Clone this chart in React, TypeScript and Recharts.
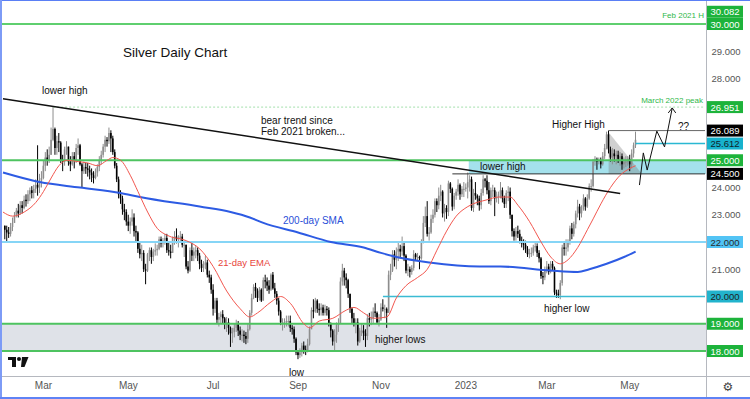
import React from "react";
import {
  ComposedChart,
  Bar,
  Line,
  Area,
  XAxis,
  YAxis,
  ReferenceLine,
  ReferenceArea,
} from "recharts";

// daily XAG/USD candles, index 0 = 1 Feb 2022 (weekdays), open = previous close
const firstOpen = 22.6;
const closes = [
  // Feb 2022
  22.45, 22.35, 22.3, 22.55, 22.7, 22.95, 23.15, 23.05, 23.35, 23.25,
  23.55, 23.5, 23.75, 23.9, 23.8, 23.95, 24.1, 24.0, 24.25, 24.35,
  // Mar
  24.8, 25.1, 25.0, 25.2, 25.75, 26.15, 25.45, 25.7, 25.65, 25.0,
  24.95, 25.4, 25.5, 24.95, 24.85, 25.15, 25.0, 25.45, 25.55, 24.85,
  24.6, 24.75, 24.7,
  // Apr
  24.65, 24.55, 24.45, 24.35, 24.55, 24.75, 25.0, 25.2, 25.5, 25.75,
  25.7, 26.0, 25.8, 25.3, 24.8, 24.3, 23.75, 23.6, 23.2, 23.1,
  22.75,
  // May
  22.6, 22.75, 22.9, 22.4, 22.35, 21.75, 21.55, 21.6, 21.0, 20.95,
  21.55, 21.7, 21.45, 21.65, 21.7, 21.75, 22.1, 21.95, 22.05, 22.15,
  21.7, 21.65,
  // Jun
  21.6, 22.15, 22.2, 22.1, 22.15, 22.2, 21.9, 21.9, 21.1, 20.95,
  21.7, 21.5, 21.65, 21.7, 21.5, 21.2, 21.05, 21.15, 21.25, 20.8,
  20.7, 20.25,
  // Jul
  19.55, 19.85, 19.15, 19.25, 19.35, 19.2, 19.0, 19.05, 18.85, 18.65,
  18.7, 18.85, 19.0, 18.75, 18.6, 18.6, 18.55, 18.45, 18.8, 19.4,
  19.95,
  // Aug
  20.35, 20.2, 19.95, 20.25, 19.85, 20.6, 20.55, 20.4, 20.25, 20.8,
  20.3, 20.1, 19.85, 19.45, 19.05, 19.05, 19.05, 19.1, 19.1, 18.85,
  18.8, 18.45, 17.95,
  // Sep
  17.85, 17.95, 18.2, 18.05, 18.0, 18.25, 18.8, 19.5, 19.45, 19.85,
  19.55, 19.5, 19.6, 19.4, 19.55, 19.5, 19.0, 18.75, 18.35, 18.6,
  18.95, 19.0,
  // Oct
  20.55, 20.95, 20.7, 20.6, 20.1, 19.55, 19.2, 19.0, 19.05, 18.35,
  18.75, 18.75, 18.65, 18.55, 19.2, 19.15, 19.2, 19.45, 19.4, 19.05,
  19.15,
  // Nov
  19.6, 19.55, 19.55, 19.4, 20.8, 20.95, 21.55, 21.35, 21.65, 21.75,
  21.65, 21.85, 21.5, 20.95, 21.0, 20.9, 21.05, 21.55, 21.45, 21.45,
  21.4, 22.0,
  // Dec
  22.7, 22.95, 22.3, 22.35, 22.85, 23.0, 23.5, 23.35, 23.7, 23.85,
  23.05, 23.25, 23.1, 24.15, 23.95, 23.3, 23.7, 23.85, 24.1, 23.75,
  23.95, 23.95,
  // Jan 2023
  24.0, 24.2, 24.3, 23.25, 23.8, 23.7, 23.6, 23.35, 23.8, 24.3,
  24.25, 23.9, 23.5, 23.9, 23.9, 23.6, 23.65, 23.75, 23.9, 23.6,
  23.4, 23.8,
  // Feb
  23.85, 23.0, 22.4, 22.2, 22.4, 22.3, 22.05, 21.95, 21.9, 21.75,
  21.55, 21.6, 21.6, 21.8, 21.85, 21.6, 21.4, 20.75, 20.7, 20.95,
  // Mar
  21.1, 20.9, 21.2, 21.05, 20.15, 20.1, 20.05, 20.5, 21.8, 21.75,
  21.8, 22.0, 22.5, 22.3, 22.65, 23.05, 23.3, 23.05, 23.2, 23.6,
  23.3, 23.6, 24.05,
  // Apr
  24.05, 24.95, 25.05, 24.95, 25.0, 24.85, 25.15, 25.45, 25.95, 25.4,
  25.1, 25.25, 25.15, 25.2, 25.05, 25.15, 24.85, 24.95, 24.95, 25.05,
  // May
  24.85, 25.25, 25.55, 25.75,
];
const highs = [
  22.6, 22.6, 22.55, 22.7, 22.9, 23.1, 23.25, 23.4, 23.5, 23.5,
  23.7, 23.75, 23.9, 24.0, 24.05, 24.1, 24.3, 25.55, 24.5, 24.6,
  25.0, 25.3, 25.4, 25.5, 26.2, 26.95, 26.2, 25.9, 26.0, 25.7,
  25.2, 25.5, 25.7, 25.5, 25.15, 25.3, 25.3, 25.6, 25.8, 25.6,
  24.9, 24.95, 24.9,
  24.9, 24.8, 24.7, 24.6, 24.7, 24.85, 25.15, 25.35, 25.6, 25.9,
  25.85, 26.2, 26.1, 25.9, 25.4, 24.9, 24.4, 23.9, 23.7, 23.4,
  23.2,
  23.0, 22.9, 23.2, 23.05, 22.6, 22.4, 22.0, 21.9, 21.7, 21.2,
  21.6, 21.8, 21.8, 21.75, 21.95, 21.9, 22.2, 22.2, 22.15, 22.3,
  22.3, 22.0,
  21.9, 22.2, 22.4, 22.5, 22.25, 22.4, 22.3, 22.05, 21.9, 21.3,
  21.8, 22.0, 21.8, 21.85, 21.8, 21.6, 21.35, 21.3, 21.5, 21.35,
  20.95, 20.8,
  20.45, 19.95, 19.95, 19.4, 19.45, 19.5, 19.25, 19.25, 19.2, 18.9,
  18.85, 19.0, 19.15, 19.1, 18.9, 18.8, 18.75, 18.7, 19.0, 19.5,
  20.1,
  20.45, 20.5, 20.3, 20.35, 20.3, 20.7, 20.8, 20.7, 20.6, 20.85,
  20.9, 20.5, 20.2, 19.95, 19.5, 19.2, 19.2, 19.3, 19.3, 19.3,
  18.95, 18.9, 18.5,
  18.0, 18.1, 18.3, 18.35, 18.2, 18.45, 18.9, 19.6, 19.9, 19.95,
  19.9, 19.75, 19.75, 19.7, 19.7, 19.65, 19.6, 19.05, 18.8, 18.8,
  19.05, 19.2,
  20.7, 21.2, 21.05, 20.85, 20.65, 20.1, 19.6, 19.4, 19.2, 19.2,
  18.85, 19.0, 18.95, 18.8, 19.35, 19.4, 19.45, 19.6, 19.75, 19.45,
  19.35,
  19.75, 19.9, 19.7, 19.6, 20.95, 21.2, 21.7, 21.7, 21.8, 22.0,
  21.9, 22.2, 22.0, 21.55, 21.2, 21.1, 21.15, 21.7, 21.6, 21.6,
  21.5, 22.1,
  22.95, 23.3, 23.5, 22.55, 23.0, 23.2, 23.6, 23.6, 24.0, 24.1,
  23.9, 23.4, 23.35, 24.25, 24.2, 24.0, 23.8, 23.95, 24.3, 24.15,
  24.05, 24.2,
  24.15, 24.55, 24.45, 24.4, 23.95, 24.2, 23.75, 23.7, 23.95, 24.45,
  24.35, 24.45, 24.2, 24.0, 24.1, 24.0, 23.85, 23.85, 24.2, 24.0,
  23.7, 23.9,
  24.05, 24.0, 23.0, 22.5, 22.55, 22.6, 22.45, 22.2, 22.1, 22.05,
  21.85, 21.75, 21.8, 21.9, 22.0, 21.95, 21.7, 21.45, 20.9, 21.1,
  21.3, 21.2, 21.3, 21.3, 21.1, 20.25, 20.25, 20.6, 21.9, 22.0,
  22.1, 22.1, 22.6, 22.7, 22.75, 23.15, 23.55, 23.4, 23.35, 23.75,
  23.65, 23.75, 24.15,
  24.3, 25.05, 25.15, 25.1, 25.1, 25.1, 25.3, 25.6, 26.05, 26.09,
  25.5, 25.45, 25.4, 25.35, 25.35, 25.3, 25.25, 25.1, 25.15, 25.15,
  25.2, 25.4, 25.65, 26.05,
];
const lows = [
  22.1, 22.0, 22.15, 22.2, 22.4, 22.7, 22.9, 22.9, 23.0, 23.05,
  23.2, 23.3, 23.4, 23.5, 23.6, 23.6, 23.8, 23.7, 23.8, 24.0,
  24.3, 24.6, 24.8, 24.9, 25.2, 25.7, 25.2, 25.2, 25.3, 24.9,
  24.6, 24.8, 25.2, 24.8, 24.6, 24.8, 24.7, 24.9, 25.2, 24.8,
  24.0, 24.5, 24.5,
  24.4, 24.3, 24.2, 24.15, 24.3, 24.4, 24.6, 24.85, 25.1, 25.3,
  25.5, 25.6, 25.3, 25.2, 24.7, 24.2, 23.6, 23.4, 23.0, 22.8,
  22.6,
  22.4, 22.3, 22.6, 22.2, 22.0, 21.6, 21.4, 21.3, 20.9, 20.45,
  20.9, 21.3, 21.2, 21.3, 21.5, 21.5, 21.7, 21.8, 21.8, 21.9,
  21.6, 21.5,
  21.4, 21.6, 21.9, 21.95, 21.8, 22.0, 21.8, 21.45, 21.0, 20.85,
  20.9, 21.3, 21.3, 21.4, 21.3, 21.0, 20.9, 20.9, 21.0, 20.7,
  20.5, 20.1,
  19.3, 19.4, 19.0, 18.9, 19.0, 19.0, 18.8, 18.7, 18.6, 18.15,
  18.3, 18.5, 18.7, 18.55, 18.4, 18.35, 18.3, 18.25, 18.3, 18.75,
  19.3,
  19.9, 19.95, 19.8, 19.85, 19.8, 19.9, 20.3, 20.2, 20.1, 20.2,
  20.25, 19.95, 19.7, 19.3, 18.95, 18.75, 18.85, 18.9, 18.9, 18.7,
  18.6, 18.3, 17.85,
  17.7, 17.75, 17.8, 17.9, 17.85, 17.95, 18.2, 18.8, 19.2, 19.4,
  19.4, 19.3, 19.3, 19.3, 19.3, 19.3, 18.9, 18.5, 18.2, 18.0,
  18.3, 18.7,
  19.0, 20.4, 20.4, 20.3, 19.95, 19.4, 19.0, 18.9, 18.65, 18.2,
  18.3, 18.55, 18.4, 18.15, 18.4, 18.9, 18.95, 19.0, 19.25, 19.0,
  18.9,
  19.1, 19.45, 19.2, 18.85, 19.4, 20.6, 20.9, 21.1, 21.0, 21.3,
  21.4, 21.5, 21.3, 20.85, 20.75, 20.7, 20.8, 20.95, 21.3, 21.3,
  21.0, 21.35,
  21.95, 22.55, 22.2, 22.05, 22.3, 22.7, 22.9, 23.1, 23.2, 23.5,
  22.9, 22.75, 22.85, 22.95, 23.8, 23.15, 23.2, 23.55, 23.7, 23.55,
  23.65, 23.65,
  23.85, 23.6, 23.85, 23.15, 23.1, 23.55, 23.35, 23.15, 23.2, 23.7,
  24.0, 23.75, 23.4, 23.35, 23.65, 22.95, 23.45, 23.4, 23.6, 23.45,
  23.25, 23.25,
  23.5, 22.85, 22.2, 22.05, 22.05, 22.15, 21.95, 21.8, 21.7, 21.6,
  21.45, 21.4, 21.45, 21.5, 21.65, 21.45, 21.25, 20.65, 20.45, 20.6,
  20.85, 20.8, 20.85, 20.95, 20.05, 19.95, 19.95, 19.9, 20.4, 21.5,
  21.5, 21.65, 21.9, 22.1, 22.2, 22.5, 22.9, 22.8, 22.9, 23.15,
  23.15, 23.25, 23.55,
  23.85, 24.0, 24.8, 24.65, 24.85, 24.7, 24.8, 25.05, 25.4, 25.25,
  24.95, 24.85, 24.95, 24.85, 24.9, 24.8, 24.65, 24.7, 24.75, 24.8,
  24.6, 24.7, 25.1, 25.45,
];

// 21-day EMA and 200-day SMA
const emaIdx = [
  -1, 4, 10, 16, 20, 24, 28, 32, 38, 43, 48, 53, 56, 60, 65, 69, 74, 79, 84,
  94, 101, 108, 115, 122, 127, 131, 138, 143, 148, 155, 158, 163, 170, 177,
  181, 186, 191, 198, 203, 208, 214, 219, 224, 229, 234, 240, 250, 256, 262,
  266, 272, 278, 283, 288, 292, 297, 302, 305, 309, 314, 319, 324, 327,
];
const emaVal = [
  23.1, 22.95, 23.1, 23.45, 23.85, 24.35, 24.8, 25.0, 24.95, 24.9, 24.8, 25.0,
  25.1, 25.0, 24.45, 23.85, 23.1, 22.5, 22.25, 22.05, 21.75, 21.1, 20.2, 19.55,
  19.25, 19.4, 19.8, 20.0, 19.75, 19.0, 18.85, 19.1, 19.2, 19.5, 19.6, 19.4,
  19.2, 19.25, 19.95, 20.4, 20.7, 21.0, 21.7, 22.4, 22.95, 23.3, 23.55, 23.65,
  23.65, 23.35, 22.75, 22.0, 21.45, 21.2, 21.35, 21.8, 22.45, 22.85, 23.4,
  24.0, 24.45, 24.7, 24.8,
];
const smaIdx = [
  -1, 18, 39, 60, 70, 101, 117, 127, 134, 152, 169, 186, 195, 203, 220, 246,
  257, 283, 297, 303, 312, 321, 327,
];
const smaVal = [
  24.55, 24.2, 24.0, 23.8, 23.65, 23.3, 23.1, 22.9, 22.7, 22.35, 22.0, 21.8,
  21.6, 21.45, 21.25, 21.1, 21.1, 20.95, 20.9, 21.0, 21.2, 21.45, 21.65,
];

// projected path and the consolidation wedge
const projIdx = [329, 331, 333, 338, 342, 346];
const projVal = [24.09, 25.27, 24.64, 26.07, 25.49, 26.92];
const wedgeIdx = [313, 330];
const wedgeTop = [26.03, 24.52];
const wedgeBottom = [24.5, 24.5];

// trend line end points
const trendIdx = [-1, 319];
const trendVal = [27.26, 23.78];

const monthTickIdx = [20, 64, 108, 152, 195, 239, 281, 324];
const monthTickLabels = ["Mar", "May", "Jul", "Sep", "Nov", "2023", "Mar", "May"];
const priceTicks = [
  18, 19, 20, 21, 22, 23, 24, 24.5, 25, 25.612, 26.089, 26.951, 28, 29, 30, 30.082,
];

const FIRST = -1;
const LAST = 363;

const rows: any[] = [];
for (let i = FIRST; i <= LAST; i++) rows.push({ i });
const at = (i: number) => rows[i - FIRST];
closes.forEach((c, k) => {
  const open = k === 0 ? firstOpen : closes[k - 1];
  const hi = Math.max(highs[k], open, c);
  const lo = Math.min(lows[k], open, c);
  Object.assign(at(k), { open, close: c, hl: [lo, hi] });
});
emaIdx.forEach((i, k) => (at(i).ema = emaVal[k]));
smaIdx.forEach((i, k) => (at(i).sma = smaVal[k]));
projIdx.forEach((i, k) => (at(i).proj = projVal[k]));
wedgeIdx.forEach((i, k) => (at(i).wedge = [wedgeBottom[k], wedgeTop[k]]));

const GREEN_BOX = "#1db33b";
const levelStyle: Record<string, { bg: string; fg: string; dy?: number }> = {
  "30.082": { bg: GREEN_BOX, fg: "#fff", dy: -10 },
  "30": { bg: GREEN_BOX, fg: "#fff" },
  "26.951": { bg: GREEN_BOX, fg: "#fff" },
  "26.089": { bg: "#000", fg: "#fff" },
  "25.612": { bg: "#17b2cd", fg: "#10232a" },
  "25": { bg: GREEN_BOX, fg: "#fff" },
  "24.5": { bg: "#000", fg: "#fff" },
  "22": { bg: "#52c4f5", fg: "#2a2a2a" },
  "20": { bg: "#22b3cc", fg: "#1f1f1f" },
  "19": { bg: GREEN_BOX, fg: "#fff" },
  "18": { bg: GREEN_BOX, fg: "#fff" },
};

const FONT = "'Liberation Sans', Arial, sans-serif";

function PriceTick(props: any) {
  const { x, y, payload } = props;
  const v = payload.value as number;
  const label = v.toFixed(3);
  const st = levelStyle[String(v)];
  if (!st) {
    return (
      <text x={x + 20} y={y} textAnchor="middle" dominantBaseline="central"
        fontSize={9.5} fill="#555" fontFamily={FONT}>
        {label}
      </text>
    );
  }
  const cy = y + (st.dy || 0);
  return (
    <g>
      <rect x={x + 1} y={cy - 6} width={36} height={12} fill={st.bg} />
      <text x={x + 19} y={cy} textAnchor="middle" dominantBaseline="central"
        fontSize={9.5} fill={st.fg} fontFamily={FONT}>
        {label}
      </text>
    </g>
  );
}

function Candle(props: any) {
  const { x, y, width, height, payload } = props;
  if (!payload || !payload.hl || height == null || isNaN(y)) return null;
  const [lo, hi] = payload.hl;
  const top = Math.min(y, y + height);
  const bot = Math.max(y, y + height);
  const span = hi - lo || 1;
  const py = (p: number) => top + ((hi - p) / span) * (bot - top);
  const cx = x + width / 2;
  const up = payload.close >= payload.open;
  const color = up ? "#8d8d8d" : "#000";
  const yo = py(payload.open);
  const yc = py(payload.close);
  const bt = Math.min(yo, yc);
  const bh = Math.max(1, Math.abs(yo - yc));
  return (
    <g>
      <line x1={cx} x2={cx} y1={top} y2={bot} stroke={color} strokeWidth={1} />
      <rect x={cx - 0.8} y={bt} width={1.6} height={bh} fill={color} />
    </g>
  );
}

function ArrowDot(props: any) {
  const { cx, cy, payload, index } = props;
  if (!payload || payload.i !== projIdx[projIdx.length - 1] || cy == null) {
    return <g key={`pd-${index}`} />;
  }
  return (
    <path key={`pd-${index}`}
      d={`M${cx - 4} ${cy + 5} L${cx} ${cy} L${cx + 3.5} ${cy + 5}`}
      fill="none" stroke="#111" strokeWidth={1} />
  );
}

const notes = [
  { t: "Silver Daily Chart", x: 123, y: 52, size: 13.5, c: "#111" },
  { t: "lower high", x: 42, y: 90, size: 10, c: "#111" },
  { t: "bear trend since", x: 261, y: 120, size: 10, c: "#111" },
  { t: "Feb 2021 broken...", x: 261, y: 131, size: 10, c: "#111" },
  { t: "200-day SMA", x: 283, y: 220, size: 10, c: "#2a4fd8" },
  { t: "21-day EMA", x: 218, y: 262, size: 9.5, c: "#e8453c" },
  { t: "lower high", x: 480, y: 166, size: 10, c: "#111" },
  { t: "Higher High", x: 552, y: 124, size: 10, c: "#111" },
  { t: "??", x: 678, y: 126, size: 10, c: "#111" },
  { t: "higher lows", x: 375, y: 339, size: 10, c: "#111" },
  { t: "low", x: 289, y: 372, size: 10, c: "#111" },
  { t: "higher low", x: 544, y: 308, size: 10, c: "#111" },
];

export default function App() {
  return (
    <div style={{ position: "absolute", left: 0, top: 0, width: 750, height: 399, background: "#fff", overflow: "hidden" }}>
      <ComposedChart
        width={750}
        height={399}
        data={rows}
        margin={{ top: 0, right: 0, bottom: 2, left: 2 }}
        barCategoryGap={0}
        style={{ fontFamily: FONT }}
      >
        <XAxis
          dataKey="i"
          type="category"
          height={21}
          ticks={monthTickIdx}
          interval={0}
          tickFormatter={(v) => monthTickLabels[monthTickIdx.indexOf(v)] ?? ""}
          tick={{ fontSize: 10, fill: "#555", fontFamily: FONT }}
          tickLine={false}
          axisLine={false}
          tickSize={0}
          tickMargin={6}
        />
        <YAxis
          orientation="right"
          type="number"
          width={44}
          domain={[17.083, 30.881]}
          allowDataOverflow
          ticks={priceTicks}
          interval={0}
          tick={<PriceTick />}
          tickLine={false}
          axisLine={false}
          tickSize={0}
          tickMargin={0}
        />

        <ReferenceArea y1={18} y2={19} fill="#dfe2e8" fillOpacity={1} stroke="none" />
        <ReferenceArea x1={241} x2={LAST} y1={24.5} y2={25} fill="#a4e1ec" fillOpacity={1} stroke="none" />

        <ReferenceLine y={30} stroke="#5fcf6f" strokeWidth={2} />
        <ReferenceLine y={25} stroke="#4ec360" strokeWidth={2} />
        <ReferenceLine y={19} stroke="#4ec360" strokeWidth={2} />
        <ReferenceLine y={18} stroke="#4ec360" strokeWidth={2} />
        <ReferenceLine y={22} stroke="#86d5f6" strokeWidth={2} />
        <ReferenceLine segment={[{ x: 196, y: 20 }, { x: LAST, y: 20 }]} stroke="#3bbbd3" strokeWidth={1.5} />
        <ReferenceLine segment={[{ x: 25, y: 26.951 }, { x: LAST, y: 26.951 }]} stroke="#a3dfab" strokeDasharray="2 2" />
        <ReferenceLine segment={[{ x: 313, y: 26.089 }, { x: LAST, y: 26.089 }]} stroke="#666" />
        <ReferenceLine segment={[{ x: 327, y: 25.612 }, { x: LAST, y: 25.612 }]} stroke="#2ab8d2" strokeWidth={1.5} />
        <ReferenceLine segment={[{ x: 232, y: 24.5 }, { x: LAST, y: 24.5 }]} stroke="#333" />

        <Area dataKey="wedge" type="linear" stroke="none" fill="#777" fillOpacity={0.35}
          connectNulls dot={false} activeDot={false} isAnimationActive={false} />
        <Bar dataKey="hl" shape={<Candle />} barSize={2} isAnimationActive={false} />
        <Line dataKey="sma" type="monotone" stroke="#2d5be3" strokeWidth={2}
          dot={false} activeDot={false} connectNulls isAnimationActive={false} />
        <Line dataKey="ema" type="monotone" stroke="#f2574f" strokeWidth={1}
          dot={false} activeDot={false} connectNulls isAnimationActive={false} />
        <Line dataKey="proj" type="linear" stroke="#111" strokeWidth={1}
          dot={ArrowDot} activeDot={false} connectNulls isAnimationActive={false} />

        <ReferenceLine
          segment={[{ x: trendIdx[0], y: trendVal[0] }, { x: trendIdx[1], y: trendVal[1] }]}
          stroke="#111" strokeWidth={1.5}
        />
      </ComposedChart>

      <svg width={750} height={399} style={{ position: "absolute", left: 0, top: 0, pointerEvents: "none" }}>
        {notes.map((n, k) => (
          <text key={k} x={n.x} y={n.y} fontSize={n.size} fill={n.c} fontFamily={FONT} dominantBaseline="central">
            {n.t}
          </text>
        ))}
        <text x={703} y={100} fontSize={8} fill="#2fb84a" textAnchor="end" fontFamily={FONT} dominantBaseline="central">
          March 2022 peak
        </text>
        <text x={704} y={15} fontSize={8} fill="#2fb84a" textAnchor="end" fontFamily={FONT} dominantBaseline="central">
          Feb 2021 H
        </text>
        {/* logo */}
        <rect x={8} y={357} width={8} height={3} fill="#111" />
        <rect x={12} y={357} width={4} height={10} fill="#111" />
        <circle cx={19} cy={359} r={2} fill="#111" />
        <path d="M22 357 L28.5 357 L24.5 367 L21 367 Z" fill="#111" />
        <text x={728} y={387} fontSize={12} fill="#444" textAnchor="middle" dominantBaseline="central" fontFamily="'DejaVu Sans'">
          ⚙
        </text>
      </svg>

      {/* frame */}
      <div style={{ position: "absolute", left: 0, top: 376, width: 750, height: 1, background: "#b5b8bf" }} />
      <div style={{ position: "absolute", left: 706, top: 0, width: 1, height: 397, background: "#b5b8bf" }} />
      <div style={{ position: "absolute", left: 0, top: 0, width: 750, height: 1, background: "#5a7ff5" }} />
      <div style={{ position: "absolute", left: 0, top: 0, width: 2, height: 399, background: "#7d9bf6" }} />
      <div style={{ position: "absolute", left: 0, top: 397, width: 750, height: 2, background: "#5f83f5" }} />
    </div>
  );
}
